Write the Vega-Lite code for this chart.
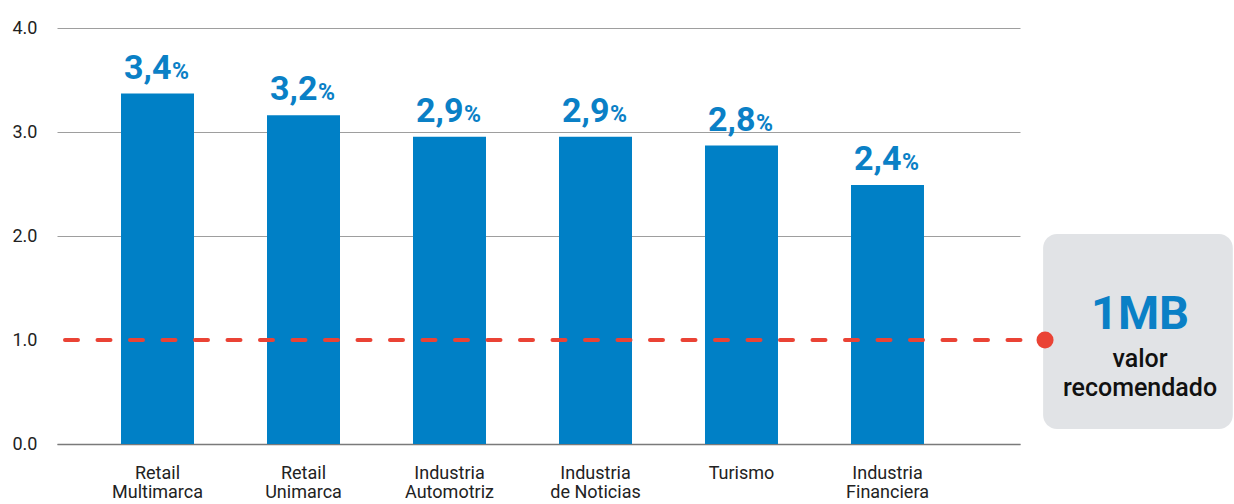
{
  "$schema": "https://vega.github.io/schema/vega-lite/v6.json",
  "width": 963,
  "height": 416,
  "padding": {"left": 12, "top": 19, "right": 0, "bottom": 0},
  "background": "white",
  "config": {"view": {"stroke": null}, "font": "Roboto"},
  "data": {
    "values": [
      {"categoria": "Retail\nMultimarca", "valor": 3.37, "etiqueta": "3,4"},
      {"categoria": "Retail\nUnimarca", "valor": 3.16, "etiqueta": "3,2"},
      {"categoria": "Industria\nAutomotriz", "valor": 2.955, "etiqueta": "2,9"},
      {"categoria": "Industria\nde Noticias", "valor": 2.955, "etiqueta": "2,9"},
      {"categoria": "Turismo", "valor": 2.87, "etiqueta": "2,8"},
      {"categoria": "Industria\nFinanciera", "valor": 2.49, "etiqueta": "2,4"}
    ]
  },
  "resolve": {"scale": {"x": "independent"}},
  "layer": [
    {
      "encoding": {
        "x": {
          "field": "categoria",
          "type": "nominal",
          "sort": null,
          "scale": {"paddingInner": 0.5, "paddingOuter": 0.548, "align": 0.4},
          "axis": {
            "title": null,
            "labelAngle": 0,
            "labelExpr": "split(datum.label, '\\n')",
            "labelFontSize": 18,
            "labelColor": "#222222",
            "labelPadding": 20,
            "labelLineHeight": 19,
            "labelBaseline": "top",
            "ticks": false,
            "domain": true,
            "domainColor": "#7a7a7a",
            "domainWidth": 1.5
          }
        },
        "y": {
          "field": "valor",
          "type": "quantitative",
          "scale": {"domain": [0, 4], "nice": false},
          "axis": {
            "title": null,
            "values": [0, 1, 2, 3, 4],
            "format": ".1f",
            "grid": true,
            "gridColor": {"condition": {"test": "datum.value == 1", "value": "transparent"}, "value": "#9e9e9e"},
            "gridWidth": 1,
            "ticks": false,
            "domain": false,
            "labelAlign": "left",
            "labelBaseline": "middle",
            "labelPadding": 45,
            "labelFontSize": 18,
            "labelColor": "#222222"
          }
        }
      },
      "layer": [
        {"mark": {"type": "bar", "color": "#0080C6"}},
        {
          "mark": {"type": "text", "align": "right", "baseline": "alphabetic", "dx": 14, "dy": -15, "fontSize": 34, "fontWeight": "bold", "color": "#0A80C6"},
          "encoding": {"text": {"field": "etiqueta"}}
        },
        {
          "mark": {"type": "text", "text": "%", "align": "left", "baseline": "alphabetic", "dx": 14.5, "dy": -15, "fontSize": 23, "fontWeight": "bold", "color": "#0A80C6"}
        }
      ]
    },
    {
      "data": {"values": [{"referencia": 1, "titulo": "1MB", "linea1": "valor", "linea2": "recomendado"}]},
      "layer": [
        {
          "mark": {"type": "rect", "color": "#E1E3E6", "cornerRadius": 14},
          "encoding": {
            "x": {"datum": 1.024, "type": "quantitative", "scale": {"domain": [0, 1], "nice": false, "zero": false}, "axis": null},
            "x2": {"datum": 1.221},
            "y": {"datum": 0.144, "type": "quantitative"},
            "y2": {"datum": 2.02}
          }
        },
        {
          "mark": {"type": "rule", "color": "#EA4335", "strokeWidth": 4, "strokeDash": [13, 19.5], "strokeCap": "round"},
          "encoding": {
            "x": {"datum": 0.0083, "type": "quantitative"},
            "x2": {"datum": 1.026},
            "y": {"field": "referencia", "type": "quantitative"}
          }
        },
        {
          "mark": {"type": "point", "filled": true, "size": 290, "color": "#EA4335", "opacity": 1},
          "encoding": {
            "x": {"datum": 1.026, "type": "quantitative"},
            "y": {"field": "referencia", "type": "quantitative"}
          }
        },
        {
          "mark": {"type": "text", "align": "center", "baseline": "alphabetic", "fontSize": 47, "fontWeight": "bold", "color": "#0A80C6"},
          "encoding": {
            "x": {"datum": 1.1246, "type": "quantitative"},
            "y": {"datum": 1.101, "type": "quantitative"},
            "text": {"field": "titulo"}
          }
        },
        {
          "mark": {"type": "text", "align": "center", "baseline": "alphabetic", "fontSize": 25, "fontWeight": 500, "color": "#111111"},
          "encoding": {
            "x": {"datum": 1.1246, "type": "quantitative"},
            "y": {"datum": 0.744, "type": "quantitative"},
            "text": {"field": "linea1"}
          }
        },
        {
          "mark": {"type": "text", "align": "center", "baseline": "alphabetic", "fontSize": 25, "fontWeight": 500, "color": "#111111"},
          "encoding": {
            "x": {"datum": 1.1246, "type": "quantitative"},
            "y": {"datum": 0.464, "type": "quantitative"},
            "text": {"field": "linea2"}
          }
        }
      ]
    }
  ]
}
